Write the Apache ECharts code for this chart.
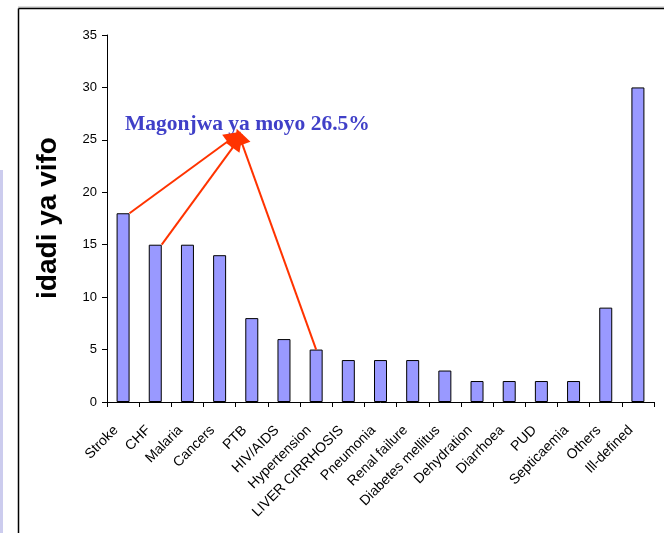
<!DOCTYPE html>
<html>
<head>
<meta charset="utf-8">
<script src="https://cdn.jsdelivr.net/npm/echarts@6/dist/echarts.min.js"></script>
<style>
html,body{margin:0;padding:0;background:#fff;}
#c{width:664px;height:533px;}
</style>
</head>
<body>
<div id="c"></div>
<script>
const categories = ['Stroke','CHF','Malaria','Cancers','PTB','HIV/AIDS','Hypertension','LIVER CIRRHOSIS','Pneumonia','Renal failure','Diabetes mellitus','Dehydration','Diarrhoea','PUD','Septicaemia','Others','Ill-defined'];
const deaths = [18,15,15,14,8,6,5,4,4,4,3,2,2,2,2,9,30];
const yTicks = {min:0, max:35, interval:5};
const axisTitle = 'idadi ya vifo';
const annotationText = 'Magonjwa ya moyo 26.5%';
// arrows: from bar tops (category-index units, value) to the annotation
const arrows = [
  [[0.2,18],[3.45,25.3]],
  [[1.2,15],[3.56,24.9]],
  [[6,5],[3.62,25.3]]
];

const chart = echarts.init(document.getElementById('c'), null, {renderer:'canvas'});
chart.setOption({
  animation:false,
  backgroundColor:'#fff',
  grid:{left:107, right:10, top:35, bottom:131, containLabel:false},
  xAxis:[{
    type:'category',
    data:categories,
    axisLine:{onZero:false, lineStyle:{color:'#000',width:1}},
    axisTick:{show:true, length:5, inside:false, alignWithLabel:false, interval:0, lineStyle:{color:'#000'}},
    axisLabel:{interval:0, rotate:45, fontFamily:'Arial, Liberation Sans', fontSize:14, color:'#000', margin:19, padding:[0,10,0,0]},
    splitLine:{show:false}
  },{
    type:'value', min:-0.5, max:categories.length-0.5, show:false,
    axisLine:{onZero:false}
  }],
  yAxis:{
    type:'value',
    min:yTicks.min, max:yTicks.max, interval:yTicks.interval,
    axisLine:{show:true, onZero:false, lineStyle:{color:'#000',width:1}},
    axisTick:{show:true, length:5, lineStyle:{color:'#000'}},
    axisLabel:{fontFamily:'Arial, Liberation Sans', fontSize:13, color:'#000', margin:10},
    splitLine:{show:false}
  },
  series:[{
    type:'bar',
    data:deaths,
    barWidth:13,
    itemStyle:{color:'#9999ff', borderColor:'#000', borderWidth:1}
  },{
    type:'lines',
    coordinateSystem:'cartesian2d',
    xAxisIndex:1, yAxisIndex:0,
    symbol:['none','triangle'],
    symbolSize:[13,17],
    lineStyle:{color:'#ff3300', width:2, opacity:1, curveness:0},
    itemStyle:{color:'#ff3300'},
    data:arrows.map(a=>({coords:a})),
    z:5
  }],
  graphic:[
    {type:'rect', shape:{x:0,y:170,width:3,height:363}, style:{fill:'#ccccee'}, silent:true},
    {type:'line', shape:{x1:18,y1:7,x2:664,y2:7}, style:{stroke:'#bbbbbb',lineWidth:1}, silent:true},
    {type:'line', shape:{x1:18.5,y1:8.5,x2:664,y2:8.5}, style:{stroke:'#000',lineWidth:1.5}, silent:true},
    {type:'line', shape:{x1:18.5,y1:8.5,x2:18.5,y2:533}, style:{stroke:'#000',lineWidth:1.5}, silent:true},
    {type:'text', left:125, top:113, style:{text:annotationText, font:'bold 21.5px "Liberation Serif", "Times New Roman", serif', fill:'#4040c8'}},
    {type:'text', x:48, y:218, rotation:Math.PI/2, style:{text:axisTitle, font:'bold 28px "Liberation Sans", Arial, sans-serif', fill:'#000', textAlign:'center', textVerticalAlign:'middle'}}
  ]
});
</script>
</body>
</html>
